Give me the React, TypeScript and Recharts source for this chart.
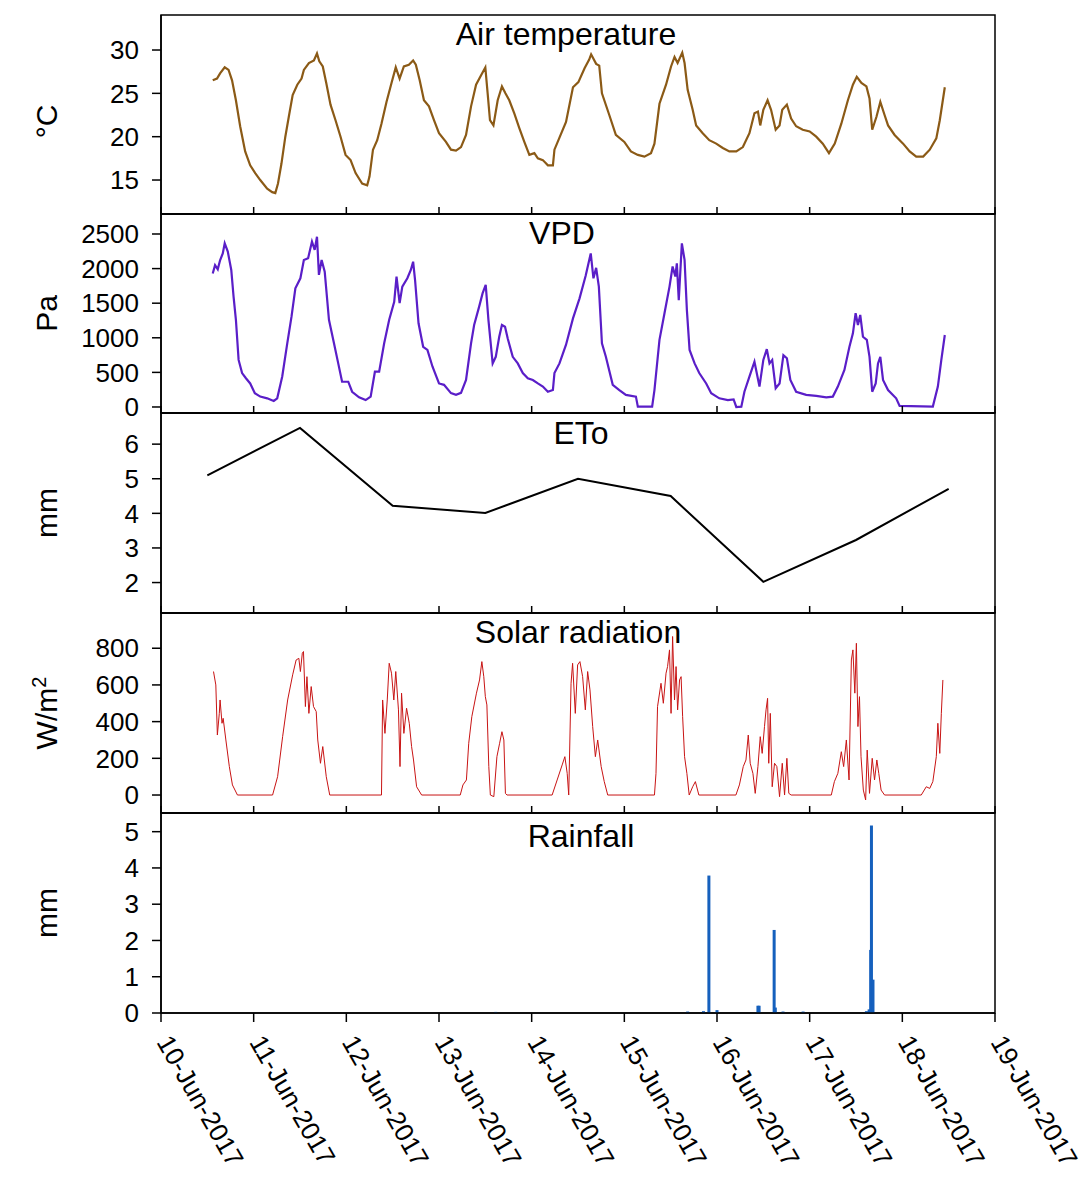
import { ComposedChart, Line, Bar, XAxis, YAxis, Label, ReferenceArea } from "recharts";

// hours counted from 10-Jun-2017 00:00
const dayTicks = [0, 24, 48, 72, 96, 120, 144, 168, 192, 216];
const dayLabels = [
  "10-Jun-2017", "11-Jun-2017", "12-Jun-2017", "13-Jun-2017", "14-Jun-2017",
  "15-Jun-2017", "16-Jun-2017", "17-Jun-2017", "18-Jun-2017", "19-Jun-2017",
];

// [hour, °C]
const airTemp: [number, number][] = [
  [13.4, 26.5], [14.5, 26.7], [15.3, 27.3], [16.5, 28.0], [17.5, 27.7], [18.4, 26.5], [19.4, 24.2], [20.5, 21.2],
  [21.8, 18.3], [23.1, 16.7], [24.4, 15.8], [25.7, 15.0], [27.5, 14.0], [28.8, 13.6], [29.6, 13.5], [30.3, 14.6],
  [31.2, 16.9], [32.2, 20.0], [33.1, 22.3], [34.1, 24.8], [35.3, 26.0], [36.4, 26.7], [37.0, 27.7], [38.3, 28.5],
  [39.6, 28.8], [40.4, 29.6], [41.0, 28.7], [41.9, 28.1], [42.8, 26.2], [43.9, 23.7], [45.2, 21.9], [46.5, 20.0],
  [47.8, 17.9], [49.1, 17.3], [50.4, 15.8], [52.1, 14.6], [53.4, 14.4], [54.0, 15.4], [54.9, 18.5], [56.0, 19.6],
  [57.1, 21.5], [58.4, 24.0], [59.7, 26.2], [60.8, 28.0], [61.8, 26.7], [62.9, 28.1], [64.2, 28.3], [65.3, 28.8],
  [66.0, 28.3], [67.0, 26.5], [68.1, 24.2], [69.4, 23.5], [70.7, 21.9], [72.0, 20.4], [73.8, 19.4], [75.1, 18.5],
  [76.4, 18.4], [77.7, 18.8], [79.0, 20.2], [80.3, 23.5], [81.6, 26.0], [82.9, 27.1], [84.0, 28.0], [84.6, 25.0],
  [85.2, 21.9], [86.1, 21.3], [87.2, 24.2], [88.3, 25.8], [89.2, 25.0], [90.2, 24.2], [91.5, 22.7], [92.8, 21.0],
  [94.1, 19.4], [95.4, 17.9], [96.7, 18.1], [97.6, 17.5], [98.9, 17.3], [100.2, 16.7], [101.5, 16.7], [101.9, 18.5],
  [103.2, 19.9], [104.9, 21.7], [106.7, 25.7], [108.1, 26.3], [109.7, 27.9], [110.9, 28.9], [111.4, 29.5], [112.7, 28.4],
  [113.5, 28.2], [114.2, 25.0], [116.1, 22.5], [117.8, 20.2], [120.0, 19.4], [121.7, 18.3], [123.5, 17.9], [125.2, 17.7],
  [126.9, 18.1], [127.8, 19.2], [129.1, 23.8], [130.8, 26.0], [132.1, 28.1], [133.0, 29.2], [133.8, 28.5], [135.0, 29.7],
  [135.6, 28.5], [136.4, 25.4], [137.7, 23.1], [138.6, 21.3], [140.3, 20.4], [142.0, 19.6], [143.8, 19.2], [145.5, 18.7],
  [147.2, 18.3], [149.0, 18.3], [150.7, 18.8], [152.4, 20.4], [153.7, 22.7], [154.6, 22.9], [155.2, 21.3], [156.0, 23.1],
  [157.1, 24.2], [158.0, 23.1], [159.2, 20.8], [160.2, 21.3], [160.9, 23.1], [162.1, 23.7], [163.2, 22.1], [164.5, 21.2],
  [166.2, 20.8], [168.0, 20.6], [169.7, 20.0], [171.4, 19.2], [173.0, 18.1], [174.5, 19.2], [176.2, 21.5], [177.9, 24.2],
  [179.2, 26.0], [180.2, 26.9], [181.4, 26.2], [182.7, 25.8], [183.5, 24.4], [184.2, 20.8], [185.3, 22.3], [186.3, 24.0],
  [187.4, 22.5], [188.3, 21.3], [190.0, 20.2], [192.2, 19.2], [193.9, 18.3], [195.6, 17.7], [197.4, 17.7], [199.1, 18.5],
  [200.8, 19.8], [201.7, 21.9], [203.0, 25.7],
];

// [hour, Pa]
const vpd: [number, number][] = [
  [13.4, 1930], [14.0, 2050], [14.7, 1990], [15.3, 2120], [16.0, 2220], [16.5, 2365], [17.3, 2245], [18.2, 1980],
  [18.8, 1590], [19.4, 1260], [20.1, 680], [21.0, 490], [22.0, 415], [23.1, 340], [24.3, 200], [25.7, 150],
  [27.5, 125], [29.2, 87], [30.1, 125], [31.4, 440], [32.7, 920], [33.8, 1305], [34.8, 1715], [36.1, 1860],
  [37.0, 2125], [38.1, 2150], [39.1, 2390], [39.8, 2270], [40.4, 2460], [40.9, 1910], [41.6, 2125], [42.4, 1955],
  [43.5, 1260], [44.8, 920], [45.9, 630], [46.9, 365], [48.5, 365], [49.5, 220], [51.3, 140], [53.0, 100],
  [54.3, 150], [55.4, 510], [56.5, 510], [57.8, 920], [59.1, 1260], [60.4, 1520], [61.0, 1885], [61.8, 1500],
  [62.5, 1740], [63.8, 1860], [64.7, 1980], [65.3, 2100], [65.8, 1835], [66.7, 1210], [67.9, 870], [69.0, 825],
  [70.3, 585], [72.0, 340], [73.3, 320], [75.1, 200], [76.4, 175], [77.7, 205], [79.0, 390], [80.3, 920],
  [81.1, 1185], [82.4, 1450], [83.3, 1645], [84.1, 1765], [84.8, 1260], [85.9, 630], [86.7, 725], [87.6, 1015],
  [88.3, 1185], [89.1, 1160], [89.8, 990], [91.1, 725], [92.4, 630], [93.7, 490], [95.0, 415], [96.3, 390],
  [97.6, 340], [98.9, 295], [100.2, 220], [101.5, 245], [101.9, 490], [103.2, 630], [104.9, 900], [106.7, 1280],
  [108.4, 1570], [110.0, 1900], [111.3, 2220], [112.0, 1860], [112.7, 2010], [113.4, 1740], [114.2, 920], [115.2, 730],
  [117.0, 320], [118.7, 245], [120.4, 175], [123.0, 150], [123.5, 5], [127.2, 5], [127.8, 245], [129.1, 970],
  [130.4, 1355], [131.7, 1740], [132.5, 2030], [133.2, 1885], [133.6, 2075], [134.1, 1545], [134.9, 2365], [135.6, 2125],
  [136.2, 1400], [136.9, 825], [138.2, 630], [139.4, 490], [141.2, 340], [142.5, 200], [144.6, 125], [146.8, 100],
  [148.3, 110], [149.0, 0], [150.3, 5], [151.1, 220], [152.4, 440], [153.7, 655], [155.0, 295], [156.0, 680],
  [156.9, 835], [157.6, 630], [158.3, 680], [159.2, 270], [160.2, 340], [161.2, 750], [162.1, 705], [163.0, 390],
  [164.5, 220], [167.1, 175], [169.7, 160], [172.3, 140], [174.0, 150], [175.3, 295], [177.0, 535], [178.3, 870],
  [179.2, 1065], [179.9, 1355], [180.5, 1185], [181.1, 1330], [181.8, 1015], [182.8, 970], [183.5, 725], [184.2, 220],
  [185.1, 340], [185.7, 630], [186.3, 725], [187.0, 390], [188.3, 245], [190.4, 125], [191.3, 15], [199.9, 5],
  [201.2, 295], [202.1, 680], [203.0, 1040],
];

// [hour, mm] daily reference evapotranspiration, plotted at noon
const eto: [number, number][] = [
  [12, 5.1], [36, 6.47], [60, 4.22], [84, 4.01], [108, 5.0], [132, 4.5], [156, 2.02], [180, 3.23], [204, 4.71],
];

// [hour, W/m2]
const solar: [number, number][] = [
  [13.6, 673], [14.2, 600], [14.6, 327], [15.1, 445], [15.3, 518], [15.8, 391], [16.1, 418], [16.8, 300],
  [17.7, 155], [18.5, 55], [19.8, 0], [28.9, 0], [30.2, 100], [31.5, 318], [32.8, 518], [34.1, 655],
  [35.0, 736], [35.7, 745], [36.1, 673], [36.6, 773], [36.9, 782], [37.4, 482], [37.8, 645], [38.3, 445],
  [38.9, 591], [39.5, 482], [40.2, 455], [40.6, 300], [41.3, 173], [41.9, 264], [42.8, 100], [43.7, 0],
  [57.1, 0], [57.4, 518], [58.0, 336], [58.6, 518], [59.1, 718], [59.7, 664], [60.3, 518], [60.8, 673],
  [61.5, 464], [61.9, 155], [62.3, 555], [62.9, 336], [63.6, 473], [64.3, 391], [64.9, 264], [65.4, 191],
  [66.2, 45], [67.5, 0], [77.5, 0], [78.2, 55], [79.1, 82], [79.7, 282], [80.5, 427], [81.7, 555],
  [82.5, 627], [83.1, 727], [83.6, 645], [84.0, 536], [84.4, 491], [84.9, 155], [85.3, 0], [86.2, -9],
  [87.0, 209], [87.7, 282], [88.3, 345], [88.8, 300], [89.2, 9], [89.6, 0], [101.3, 0], [102.6, 82],
  [103.9, 164], [104.6, 209], [105.2, 118], [105.6, 0], [106.2, 609], [106.6, 718], [107.3, 445], [107.9, 709],
  [108.5, 727], [109.2, 645], [109.9, 464], [110.5, 673], [111.1, 573], [111.8, 373], [112.5, 209], [113.1, 300],
  [114.0, 155], [114.8, 73], [115.7, 0], [127.8, 0], [128.2, 118], [128.6, 482], [129.5, 609], [130.1, 500],
  [130.8, 664], [131.2, 700], [131.7, 791], [132.1, 445], [132.5, 864], [133.0, 518], [133.4, 700], [133.8, 464],
  [134.3, 627], [134.7, 645], [135.1, 427], [135.6, 209], [136.2, 118], [136.8, 0], [137.7, 45], [138.4, 73],
  [139.3, 0], [148.9, 0], [149.8, 55], [150.8, 155], [151.5, 191], [152.1, 327], [152.6, 173], [153.3, 118],
  [153.9, 9], [154.6, 155], [155.2, 318], [155.7, 227], [156.3, 373], [156.7, 464], [157.1, 527], [157.4, 173],
  [157.8, 445], [158.3, 45], [158.9, 173], [159.5, 155], [160.2, -9], [160.9, 173], [161.5, 0], [162.1, 200],
  [162.6, 9], [163.2, 0], [173.6, 0], [174.4, 73], [175.3, 118], [176.2, 236], [176.8, 155], [177.5, 300],
  [178.2, 82], [178.8, 736], [179.2, 791], [179.7, 555], [180.1, 827], [180.5, 373], [180.9, 536], [181.3, 209],
  [181.9, 27], [182.5, -27], [182.9, 245], [183.5, 9], [184.2, 200], [184.8, 82], [185.4, 191], [185.9, 118],
  [186.5, 27], [187.4, 0], [196.9, 0], [198.2, 45], [199.1, 36], [199.9, 73], [200.8, 209], [201.2, 391],
  [201.7, 227], [202.1, 445], [202.5, 627],
];

// [hour, mm]
const rainfall: [number, number][] = [
  [86.7, 0.03], [136.4, 0.04], [140.5, 0.05], [141.9, 3.79], [144.0, 0.08], [154.6, 0.2], [154.9, 0.2],
  [158.8, 2.29], [159.1, 0.15], [161.1, 0.04], [166.3, 0.04], [182.7, 0.05], [183.4, 0.1], [183.8, 1.74],
  [184.0, 5.17], [184.4, 0.92],
];

const FONT = "'Liberation Sans', Arial, Helvetica, sans-serif";
const WIDTH = 1083;
const PLOT_LEFT = 161;
const PLOT_RIGHT = 995;
const Y_AXIS_W = 100;
const PAD = 10;
const AXIS = { stroke: "#000", strokeWidth: 1.5 };

const toRows = (pts: [number, number][]) => pts.map(([h, v]) => ({ h, v }));

function DateTick(props: any) {
  const { x, y, payload } = props;
  const label = dayLabels[Math.round(payload.value / 24)];
  return (
    <text
      transform={`translate(${x - 5},${y + 18}) rotate(60)`}
      fontSize={26}
      fontFamily={FONT}
      fill="#000"
    >
      {label}
    </text>
  );
}

// inner panels only show the tick marks, no labels
const NoLabel = () => <g />;

// thin rain bars, centred on their time stamp
function RainBar(props: any) {
  const { x, y, width, height, fill } = props;
  if (!height || height <= 0) return null;
  return <rect x={x + width / 2 - 1.5} y={y} width={3} height={height} fill={fill} />;
}

interface PanelProps {
  top: number;
  height: number;
  title: string;
  titleDx?: number;
  titleDy: number;
  unit: React.ReactNode;
  unitDy?: number;
  domain: [number, number];
  ticks: number[];
  data: { h: number; v: number }[];
  last?: boolean;
  children: React.ReactNode;
}

function Panel({
  top, height, title, titleDx = 0, titleDy, unit, unitDy = 0, domain, ticks, data, last, children,
}: PanelProps) {
  const bottomH = last ? 160 : 0;
  return (
    <div style={{ position: "absolute", left: 0, top: top - PAD }}>
      <ComposedChart
        width={WIDTH}
        height={PAD + height + (last ? 0 : PAD) + bottomH}
        data={data}
        margin={{ top: PAD, right: WIDTH - PLOT_RIGHT, bottom: last ? 0 : PAD, left: PLOT_LEFT - Y_AXIS_W }}
      >
        <XAxis
          dataKey="h"
          type="number"
          domain={[0, 216]}
          ticks={dayTicks}
          interval={0}
          allowDataOverflow
          height={last ? bottomH : 1}
          mirror={!last}
          tick={last ? <DateTick /> : <NoLabel />}
          tickSize={last ? 9 : 7}
          axisLine={AXIS}
          tickLine={AXIS}
        />
        <YAxis
          type="number"
          domain={domain}
          ticks={ticks}
          interval={0}
          allowDataOverflow
          width={Y_AXIS_W}
          tickSize={9}
          tickMargin={13}
          tick={{ fontSize: 26, fill: "#000", fontFamily: FONT }}
          axisLine={AXIS}
          tickLine={AXIS}
          label={
            <Label
              content={(p: any) => {
                const cy = p.viewBox.y + p.viewBox.height / 2 + unitDy;
                return (
                  <text
                    x={57}
                    y={cy}
                    transform={`rotate(-90, 57, ${cy})`}
                    textAnchor="middle"
                    fontSize={30}
                    fontFamily={FONT}
                    fill="#000"
                  >
                    {unit}
                  </text>
                );
              }}
            />
          }
        />
        <ReferenceArea
          x1={0}
          x2={216}
          y1={domain[0]}
          y2={domain[1]}
          ifOverflow="visible"
          fill="none"
          stroke="#000"
          strokeWidth={1.5}
          label={
            <Label
              content={(p: any) => (
                <text
                  x={p.viewBox.x + p.viewBox.width / 2 + titleDx}
                  y={p.viewBox.y + titleDy}
                  textAnchor="middle"
                  fontSize={32}
                  fontFamily={FONT}
                  fill="#000"
                >
                  {title}
                </text>
              )}
            />
          }
        />
        {children}
      </ComposedChart>
    </div>
  );
}

export default function App() {
  return (
    <div
      style={{
        position: "absolute",
        left: 0,
        top: 0,
        width: WIDTH,
        height: 1177,
        overflow: "hidden",
        background: "#fff",
        fontFamily: FONT,
      }}
    >
      <Panel
        top={15}
        height={199}
        title="Air temperature"
        titleDx={-12}
        titleDy={30}
        unit="°C"
        unitDy={7}
        domain={[11.08, 34.04]}
        ticks={[15, 20, 25, 30]}
        data={toRows(airTemp)}
      >
        <Line dataKey="v" stroke="#8b5a16" strokeWidth={2.2} dot={false} isAnimationActive={false} />
      </Panel>
      <Panel
        top={214}
        height={199}
        title="VPD"
        titleDx={-16}
        titleDy={30}
        unit="Pa"
        domain={[-87, 2789]}
        ticks={[0, 500, 1000, 1500, 2000, 2500]}
        data={toRows(vpd)}
      >
        <Line dataKey="v" stroke="#5a1ec8" strokeWidth={2.2} dot={false} isAnimationActive={false} />
      </Panel>
      <Panel
        top={413}
        height={200}
        title="ETo"
        titleDx={3}
        titleDy={31}
        unit="mm"
        domain={[1.12, 6.9]}
        ticks={[2, 3, 4, 5, 6]}
        data={toRows(eto)}
      >
        <Line dataKey="v" stroke="#000" strokeWidth={2} dot={false} isAnimationActive={false} />
      </Panel>
      <Panel
        top={613}
        height={200}
        title="Solar radiation"
        titleDy={30}
        unit={
          <>
            <tspan>W/m</tspan>
            <tspan dy={-11} fontSize={20}>2</tspan>
          </>
        }
        domain={[-98, 992]}
        ticks={[0, 200, 400, 600, 800]}
        data={toRows(solar)}
      >
        <Line dataKey="v" stroke="#c81414" strokeWidth={1} dot={false} isAnimationActive={false} />
      </Panel>
      <Panel
        top={813}
        height={200}
        title="Rainfall"
        titleDx={3}
        titleDy={34}
        unit="mm"
        domain={[0, 5.515]}
        ticks={[0, 1, 2, 3, 4, 5]}
        data={toRows(rainfall)}
        last
      >
        <Bar dataKey="v" fill="#1560bd" shape={<RainBar />} isAnimationActive={false} />
      </Panel>
    </div>
  );
}
